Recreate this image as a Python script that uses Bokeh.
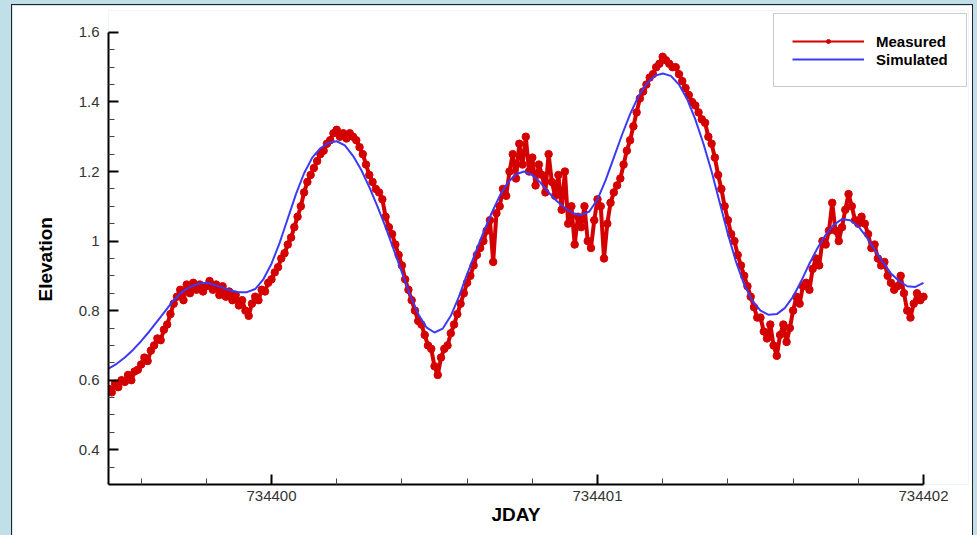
from bokeh.plotting import figure
from bokeh.models import FixedTicker, Legend, LegendItem, ColumnDataSource, Range1d, Title
from bokeh.layouts import column
from bokeh.embed import file_html
from bokeh.resources import INLINE

# ---------------- data ----------------
meas_start = 734399.5
meas_step = 0.01
meas_elev = [
    0.575, 0.565, 0.59, 0.58, 0.60, 0.595, 0.615, 0.60, 0.625, 0.63,
    0.645, 0.665, 0.655, 0.685, 0.70, 0.72, 0.715, 0.745, 0.76, 0.79,
    0.82, 0.84, 0.86, 0.83, 0.875, 0.85, 0.88, 0.86, 0.875, 0.855,
    0.87, 0.885, 0.86, 0.875, 0.845, 0.87, 0.84, 0.855, 0.83, 0.845,
    0.815, 0.83, 0.80, 0.785, 0.82, 0.84, 0.83, 0.86, 0.855, 0.88,
    0.89, 0.91, 0.925, 0.95, 0.965, 0.99, 1.01, 1.04, 1.07, 1.10,
    1.14, 1.17, 1.19, 1.21, 1.23, 1.25, 1.26, 1.28, 1.29, 1.31,
    1.32, 1.30, 1.31, 1.295, 1.31, 1.30, 1.29, 1.27, 1.25, 1.22,
    1.19, 1.17, 1.15, 1.14, 1.12, 1.07, 1.04, 1.02, 0.99, 0.96,
    0.93, 0.89, 0.86, 0.83, 0.80, 0.77, 0.76, 0.73, 0.70, 0.69,
    0.64, 0.615, 0.665, 0.69, 0.70, 0.735, 0.76, 0.79, 0.82, 0.85,
    0.88, 0.90, 0.93, 0.96, 0.98, 1.00, 1.03, 1.06, 0.94, 1.08,
    1.10, 1.15, 1.13, 1.20, 1.25, 1.18, 1.28, 1.22, 1.30, 1.20,
    1.24, 1.16, 1.22, 1.19, 1.14, 1.25, 1.17, 1.13, 1.19, 1.09,
    1.20, 1.05, 1.10, 0.99, 1.07, 1.04, 1.10, 1.00, 0.98, 1.06,
    1.12, 1.10, 0.95, 1.05, 1.11, 1.14, 1.16, 1.18, 1.22, 1.26,
    1.29, 1.33, 1.37, 1.41, 1.43, 1.45, 1.47, 1.48, 1.50, 1.51,
    1.53, 1.52, 1.51, 1.50, 1.50, 1.48, 1.46, 1.44, 1.42, 1.40,
    1.39, 1.37, 1.35, 1.34, 1.30, 1.28, 1.24, 1.19, 1.15, 1.10,
    1.06, 1.02, 1.00, 0.96, 0.93, 0.90, 0.87, 0.84, 0.81, 0.78,
    0.78, 0.74, 0.72, 0.76, 0.70, 0.67, 0.73, 0.76, 0.71, 0.75,
    0.80, 0.84, 0.82, 0.87, 0.88, 0.86, 0.92, 0.95, 0.93, 1.00,
    0.99, 1.03, 1.11, 1.03, 1.00, 1.04, 1.09, 1.135, 1.10, 1.06,
    1.05, 1.07, 1.05, 1.02, 0.98, 0.99, 0.95, 0.93, 0.94, 0.90,
    0.88, 0.86, 0.87, 0.90, 0.85, 0.80, 0.78, 0.82, 0.85, 0.83, 0.84,
]

sim_start = 734399.5
sim_step = 0.025
sim_elev = [
    0.633, 0.647, 0.665, 0.687, 0.712, 0.740, 0.770, 0.800, 0.830, 0.853,
    0.868, 0.877, 0.880, 0.874, 0.866, 0.858, 0.853, 0.853, 0.862, 0.890,
    0.935, 0.995, 1.065, 1.135, 1.195, 1.240, 1.267, 1.283, 1.287, 1.275,
    1.245, 1.205, 1.155, 1.100, 1.040, 0.975, 0.910, 0.845, 0.790, 0.752,
    0.737, 0.748, 0.785, 0.840, 0.905, 0.965, 1.025, 1.080, 1.130, 1.168,
    1.192, 1.200, 1.190, 1.168, 1.140, 1.115, 1.095, 1.080, 1.075, 1.085,
    1.120, 1.175, 1.240, 1.305, 1.365, 1.415, 1.452, 1.475, 1.482, 1.475,
    1.450, 1.408, 1.350, 1.280, 1.200, 1.110, 1.020, 0.940, 0.875, 0.828,
    0.800, 0.788, 0.790, 0.808, 0.840, 0.885, 0.935, 0.980, 1.018, 1.047,
    1.063, 1.060, 1.042, 1.012, 0.975, 0.940, 0.907, 0.885, 0.870, 0.868,
    0.880,
]

x_ticks = [734400, 734401, 734402]
x_tick_labels = ["734400", "734401", "734402"]
x_minor = [734399.6, 734399.8, 734400.2, 734400.4, 734400.6, 734400.8,
           734401.2, 734401.4, 734401.6, 734401.8]
x_axis_span = (734399.5, 734402)
x_title = "JDAY"
y_ticks = [0.4, 0.6, 0.8, 1.0, 1.2, 1.4, 1.6]
y_tick_labels = ["0.4", "0.6", "0.8", "1", "1.2", "1.4", "1.6"]
y_minor = [0.35, 0.45, 0.5, 0.55, 0.65, 0.7, 0.75, 0.85, 0.9, 0.95, 1.05,
           1.1, 1.15, 1.25, 1.3, 1.35, 1.45, 1.5, 1.55]
y_axis_span = (0.3, 1.6)
y_title = "Elevation"

series_names = ["Measured", "Simulated"]

# ---------------- build ----------------
meas_x = [meas_start + i * meas_step for i in range(len(meas_elev))]
sim_x = [sim_start + i * sim_step for i in range(len(sim_elev))]
meas_src = ColumnDataSource(dict(x=meas_x, y=meas_elev))
sim_src = ColumnDataSource(dict(x=sim_x, y=sim_elev))
key_src = ColumnDataSource(dict(x=[float("nan")], y=[float("nan")]))  # legend-key only

RED = "#d40000"
BLUE = "#3b3bf5"
FONT = "Liberation Sans"

# frame is a little larger than the axes (room for the legend box);
# the axis lines are limited to their spans with `bounds`
p = figure(width=960, height=530, output_backend="svg", toolbar_location=None,
           x_range=Range1d(734399.5, 734402.138), y_range=Range1d(0.3, 1.663),
           min_border_left=96, min_border_right=4, min_border_top=5,
           min_border_bottom=51, margin=(5, 5, 0, 12))
p.styles = {"box-shadow": "0 0 0 1px #222"}
p.background_fill_color = "white"
p.border_fill_color = "white"
p.outline_line_color = None
p.xgrid.visible = False
p.ygrid.visible = False

p.xaxis.ticker = FixedTicker(ticks=x_ticks, minor_ticks=x_minor)
p.yaxis.ticker = FixedTicker(ticks=y_ticks, minor_ticks=y_minor)
p.xaxis.bounds = x_axis_span
p.yaxis.bounds = y_axis_span
p.xaxis.major_label_overrides = {t: l for t, l in zip(x_ticks, x_tick_labels)}
p.yaxis.major_label_overrides = {t: l for t, l in zip(y_ticks, y_tick_labels)}

for ax in (p.xaxis[0], p.yaxis[0]):
    ax.axis_line_width = 2
    ax.axis_line_color = "black"
    ax.major_tick_in = 10
    ax.major_tick_out = 0
    ax.minor_tick_in = 6
    ax.minor_tick_out = 0
    ax.major_tick_line_width = 2
    ax.major_tick_line_color = "black"
    ax.minor_tick_line_color = "#444"
    ax.minor_tick_line_width = 1
    ax.major_label_text_font = FONT
    ax.major_label_text_font_size = "15px"
    ax.major_label_text_color = "#333"

p.yaxis.major_label_standoff = 9
p.xaxis.major_label_standoff = 6

# axis titles as side-panel titles so they can be centred on the axis spans
# (the frame itself extends past the axes)
ytitle = Title(text=y_title, align="left", vertical_align="bottom", offset=183,
               standoff=40, text_font=FONT, text_font_style="bold",
               text_font_size="19px", text_color="black")
xtitle = Title(text=x_title, align="left", vertical_align="top", offset=383,
               standoff=0, text_font=FONT, text_font_style="bold",
               text_font_size="19px", text_color="black")
p.add_layout(ytitle, "left")
p.add_layout(xtitle, "below")

# data
p.line("x", "y", source=meas_src, color=RED, line_width=4)
p.scatter("x", "y", source=meas_src, size=7.5, color=RED)
p.line("x", "y", source=sim_src, color=BLUE, line_width=2)

# legend-only glyphs (thin line with small dot, as in the reference key)
lg_m_line = p.line("x", "y", source=key_src, color=RED, line_width=2)
lg_m_pt = p.scatter("x", "y", source=key_src, size=3.5, color=RED)
lg_s_line = p.line("x", "y", source=key_src, color=BLUE, line_width=2)

legend = Legend(items=[LegendItem(label=series_names[0], renderers=[lg_m_line, lg_m_pt]),
                       LegendItem(label=series_names[1], renderers=[lg_s_line])],
                location=(665, 397))
legend.label_text_font = FONT
legend.label_text_font_style = "bold"
legend.label_text_font_size = "15px"
legend.label_text_color = "black"
legend.glyph_width = 72
legend.glyph_height = 10
legend.label_height = 18
legend.label_standoff = 12
legend.spacing = 0
legend.padding = 18
legend.margin = 0
legend.border_line_color = "#999999"
legend.border_line_width = 1.5
legend.background_fill_color = "white"
legend.background_fill_alpha = 1
p.add_layout(legend)

page = column(p, width=977, height=535, styles={"background-color": "#c0dfe9"})

open("out.html", "w").write(file_html(page, INLINE))
